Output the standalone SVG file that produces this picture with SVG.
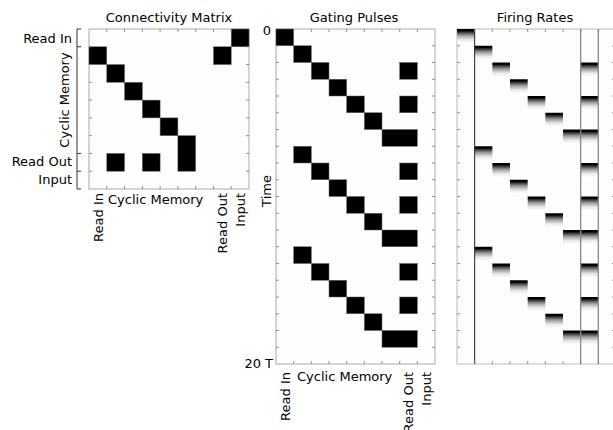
<svg xmlns="http://www.w3.org/2000/svg" width="613" height="430" viewBox="0 0 613 430">
<style>
text{font-family:"DejaVu Sans","Liberation Sans",sans-serif;font-size:13px;fill:#000}
.frame{fill:#fdfdfd;stroke:#aaa;stroke-width:1}
.tick{fill:none;stroke:#777;stroke-width:0.8}
.blk{fill:#000;stroke:#666;stroke-width:0.5}
.bar{fill:url(#fade)}
.br{fill:none;stroke:#333;stroke-width:1}
</style>
<defs>
<linearGradient id="fade" x1="0" y1="0" x2="0" y2="1">
<stop offset="0" stop-color="#000"/>
<stop offset="0.13" stop-color="#000"/>
<stop offset="0.22" stop-color="#333"/>
<stop offset="0.45" stop-color="#999"/>
<stop offset="0.75" stop-color="#e8e8e8"/>
<stop offset="1" stop-color="#fdfdfd"/>
</linearGradient>
</defs>
<rect width="613" height="430" fill="#fff"/>

<g id="connectivity">
<text x="169" y="22" text-anchor="middle">Connectivity Matrix</text>
<rect class="frame" x="89" y="29" width="160" height="160"/>
<rect class="blk" x="231.22" y="29" width="17.78" height="17.78"/>
<rect class="blk" x="89" y="46.78" width="17.78" height="17.78"/>
<rect class="blk" x="213.44" y="46.78" width="17.78" height="17.78"/>
<rect class="blk" x="106.78" y="64.56" width="17.78" height="17.78"/>
<rect class="blk" x="124.56" y="82.33" width="17.78" height="17.78"/>
<rect class="blk" x="142.33" y="100.11" width="17.78" height="17.78"/>
<rect class="blk" x="160.11" y="117.89" width="17.78" height="17.78"/>
<rect class="blk" x="177.89" y="135.67" width="17.78" height="35.56"/>
<rect class="blk" x="106.78" y="153.44" width="17.78" height="17.78"/>
<rect class="blk" x="142.33" y="153.44" width="17.78" height="17.78"/>
<path class="tick" d="M106.78 29v3M124.56 29v3M142.33 29v3M160.11 29v3M177.89 29v3M195.67 29v3M213.44 29v3M231.22 29v3
M106.78 189v-3M124.56 189v-3M142.33 189v-3M160.11 189v-3M177.89 189v-3M195.67 189v-3M213.44 189v-3M231.22 189v-3
M89 46.78h3M89 64.56h3M89 82.33h3M89 100.11h3M89 117.89h3M89 135.67h3M89 153.44h3M89 171.22h3
M249 46.78h-3M249 64.56h-3M249 82.33h-3M249 100.11h-3M249 117.89h-3M249 135.67h-3M249 153.44h-3M249 171.22h-3"/>
<path class="br" d="M77 29V189M77 29h4M77 46.78h4M77 153.44h4M77 171.22h4M77 189h4"/>
<text x="72" y="43" text-anchor="end">Read In</text>
<text transform="translate(69,100) rotate(-90)" text-anchor="middle">Cyclic Memory</text>
<text x="72" y="166" text-anchor="end">Read Out</text>
<text x="72" y="184" text-anchor="end">Input</text>
<text transform="translate(102.5,193) rotate(-90)" text-anchor="end">Read In</text>
<text x="108" y="204">Cyclic Memory</text>
<text transform="translate(227,193) rotate(-90)" text-anchor="end">Read Out</text>
<text transform="translate(244.5,193) rotate(-90)" text-anchor="end">Input</text>
</g>

<g id="gating">
<text x="354" y="22" text-anchor="middle">Gating Pulses</text>
<rect class="frame" x="276" y="29" width="159" height="335"/>
<rect class="blk" x="276" y="29" width="17.67" height="16.75"/>
<rect class="blk" x="293.67" y="45.75" width="17.67" height="16.75"/>
<rect class="blk" x="311.33" y="62.5" width="17.67" height="16.75"/>
<rect class="blk" x="399.67" y="62.5" width="17.67" height="16.75"/>
<rect class="blk" x="329" y="79.25" width="17.67" height="16.75"/>
<rect class="blk" x="346.67" y="96" width="17.67" height="16.75"/>
<rect class="blk" x="399.67" y="96" width="17.67" height="16.75"/>
<rect class="blk" x="364.33" y="112.75" width="17.67" height="16.75"/>
<rect class="blk" x="382" y="129.5" width="35.33" height="16.75"/>
<rect class="blk" x="293.67" y="146.25" width="17.67" height="16.75"/>
<rect class="blk" x="311.33" y="163" width="17.67" height="16.75"/>
<rect class="blk" x="399.67" y="163" width="17.67" height="16.75"/>
<rect class="blk" x="329" y="179.75" width="17.67" height="16.75"/>
<rect class="blk" x="346.67" y="196.5" width="17.67" height="16.75"/>
<rect class="blk" x="399.67" y="196.5" width="17.67" height="16.75"/>
<rect class="blk" x="364.33" y="213.25" width="17.67" height="16.75"/>
<rect class="blk" x="382" y="230" width="35.33" height="16.75"/>
<rect class="blk" x="293.67" y="246.75" width="17.67" height="16.75"/>
<rect class="blk" x="311.33" y="263.5" width="17.67" height="16.75"/>
<rect class="blk" x="399.67" y="263.5" width="17.67" height="16.75"/>
<rect class="blk" x="329" y="280.25" width="17.67" height="16.75"/>
<rect class="blk" x="346.67" y="297" width="17.67" height="16.75"/>
<rect class="blk" x="399.67" y="297" width="17.67" height="16.75"/>
<rect class="blk" x="364.33" y="313.75" width="17.67" height="16.75"/>
<rect class="blk" x="382" y="330.5" width="35.33" height="16.75"/>
<path class="tick" d="M293.67 29v3M311.33 29v3M329 29v3M346.67 29v3M364.33 29v3M382 29v3M399.67 29v3M417.33 29v3
M293.67 364v-3M311.33 364v-3M329 364v-3M346.67 364v-3M364.33 364v-3M382 364v-3M399.67 364v-3M417.33 364v-3
M276 45.75h3M276 62.5h3M276 79.25h3M276 96h3M276 112.75h3M276 129.5h3M276 146.25h3M276 163h3M276 179.75h3M276 196.5h3M276 213.25h3M276 230h3M276 246.75h3M276 263.5h3M276 280.25h3M276 297h3M276 313.75h3M276 330.5h3M276 347.25h3
M435 45.75h-3M435 62.5h-3M435 79.25h-3M435 96h-3M435 112.75h-3M435 129.5h-3M435 146.25h-3M435 163h-3M435 179.75h-3M435 196.5h-3M435 213.25h-3M435 230h-3M435 246.75h-3M435 263.5h-3M435 280.25h-3M435 297h-3M435 313.75h-3M435 330.5h-3M435 347.25h-3"/>
<text x="271" y="35" text-anchor="end">0</text>
<text x="273" y="368" text-anchor="end">20 T</text>
<text transform="translate(271,191) rotate(-90)" text-anchor="middle">Time</text>
<text transform="translate(290,372) rotate(-90)" text-anchor="end">Read In</text>
<text x="297" y="381">Cyclic Memory</text>
<text transform="translate(413,372) rotate(-90)" text-anchor="end">Read Out</text>
<text transform="translate(431,372) rotate(-90)" text-anchor="end">Input</text>
</g>

<g id="firing">
<text x="535" y="22" text-anchor="middle">Firing Rates</text>
<rect x="457" y="29" width="159" height="335" fill="#fdfdfd" stroke="#bbb" stroke-width="1"/>
<rect class="bar" x="457" y="29" width="17.67" height="14"/>
<rect class="bar" x="474.67" y="45.75" width="17.67" height="14"/>
<rect class="bar" x="492.33" y="62.5" width="17.67" height="14"/>
<rect class="bar" x="580.67" y="62.5" width="17.67" height="14"/>
<rect class="bar" x="510" y="79.25" width="17.67" height="14"/>
<rect class="bar" x="527.67" y="96" width="17.67" height="14"/>
<rect class="bar" x="580.67" y="96" width="17.67" height="14"/>
<rect class="bar" x="545.33" y="112.75" width="17.67" height="14"/>
<rect class="bar" x="563" y="129.5" width="35.33" height="14"/>
<rect class="bar" x="474.67" y="146.25" width="17.67" height="14"/>
<rect class="bar" x="492.33" y="163" width="17.67" height="14"/>
<rect class="bar" x="580.67" y="163" width="17.67" height="14"/>
<rect class="bar" x="510" y="179.75" width="17.67" height="14"/>
<rect class="bar" x="527.67" y="196.5" width="17.67" height="14"/>
<rect class="bar" x="580.67" y="196.5" width="17.67" height="14"/>
<rect class="bar" x="545.33" y="213.25" width="17.67" height="14"/>
<rect class="bar" x="563" y="230" width="35.33" height="14"/>
<rect class="bar" x="474.67" y="246.75" width="17.67" height="14"/>
<rect class="bar" x="492.33" y="263.5" width="17.67" height="14"/>
<rect class="bar" x="580.67" y="263.5" width="17.67" height="14"/>
<rect class="bar" x="510" y="280.25" width="17.67" height="14"/>
<rect class="bar" x="527.67" y="297" width="17.67" height="14"/>
<rect class="bar" x="580.67" y="297" width="17.67" height="14"/>
<rect class="bar" x="545.33" y="313.75" width="17.67" height="14"/>
<rect class="bar" x="563" y="330.5" width="35.33" height="14"/>
<path d="M474.67 29V364" stroke="#222" stroke-width="1" fill="none"/>
<path d="M580.67 29V364M598.33 29V364" stroke="#888" stroke-width="1.3" fill="none"/>
<path class="tick" d="M474.67 29v3M492.33 29v3M510 29v3M527.67 29v3M545.33 29v3M563 29v3M580.67 29v3M598.33 29v3
M474.67 364v-3M492.33 364v-3M510 364v-3M527.67 364v-3M545.33 364v-3M563 364v-3M580.67 364v-3M598.33 364v-3
M457 45.75h3M457 62.5h3M457 79.25h3M457 96h3M457 112.75h3M457 129.5h3M457 146.25h3M457 163h3M457 179.75h3M457 196.5h3M457 213.25h3M457 230h3M457 246.75h3M457 263.5h3M457 280.25h3M457 297h3M457 313.75h3M457 330.5h3M457 347.25h3
M616 45.75h-4M616 62.5h-4M616 79.25h-4M616 96h-4M616 112.75h-4M616 129.5h-4M616 146.25h-4M616 163h-4M616 179.75h-4M616 196.5h-4M616 213.25h-4M616 230h-4M616 246.75h-4M616 263.5h-4M616 280.25h-4M616 297h-4M616 313.75h-4M616 330.5h-4M616 347.25h-4"/>
</g>
</svg>
